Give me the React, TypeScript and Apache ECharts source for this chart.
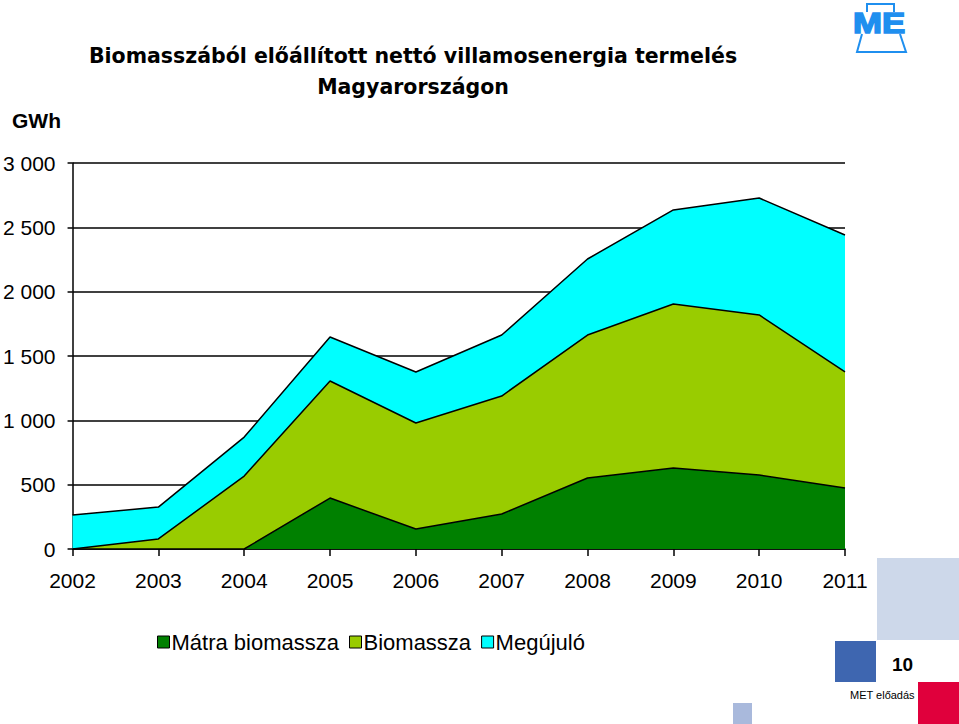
import React, { useEffect, useRef } from "react";
import * as echarts from "echarts";

const years = ["2002", "2003", "2004", "2005", "2006", "2007", "2008", "2009", "2010", "2011"];
const matra = [0, 0, 0, 396, 155, 272, 552, 630, 575, 474];
const biomassza = [0, 78, 567, 910, 824, 917, 1111, 1274, 1244, 902];
const megujulo = [264, 248, 303, 342, 397, 474, 591, 731, 909, 1064];
const seriesNames = ["Mátra biomassza", "Biomassza", "Megújuló"];
const seriesColors = ["#008000", "#99cc00", "#00ffff"];
const titleLines = ["Biomasszából előállított nettó villamosenergia termelés", "Magyarországon"];

export default function App() {
  const ref = useRef<HTMLDivElement>(null);
  useEffect(() => {
    const chart = echarts.init(ref.current!, null, { renderer: "svg" });
    const font = "Liberation Sans, Arial, sans-serif";
    const titleFont = "DejaVu Sans, sans-serif";
    const values = [matra, biomassza, megujulo];
    chart.setOption({
      animation: false,
      backgroundColor: "#ffffff",
      textStyle: { fontFamily: font },
      grid: { left: 72, right: 114, top: 163, bottom: 175, containLabel: false },
      xAxis: {
        type: "category",
        data: years,
        boundaryGap: false,
        axisLine: { lineStyle: { color: "#000", width: 1.5 } },
        axisTick: { show: true, length: 7, lineStyle: { color: "#000", width: 1.5 }, alignWithLabel: true },
        axisLabel: { color: "#000", fontSize: 21, margin: 21, fontFamily: font },
      },
      yAxis: {
        type: "value",
        min: 0,
        max: 3000,
        interval: 500,
        axisLine: { show: true, lineStyle: { color: "#000", width: 1.5 } },
        axisTick: { show: true, length: 5, lineStyle: { color: "#000", width: 1.5 } },
        splitLine: { show: true, lineStyle: { color: "#000", width: 1.5 } },
        axisLabel: {
          color: "#000",
          fontSize: 21,
          margin: 17,
          fontFamily: font,
          formatter: (v: number) => (v >= 1000 ? Math.floor(v / 1000) + " " + String(v % 1000).padStart(3, "0") : String(v)),
        },
      },
      legend: {
        left: 152,
        top: 626,
        itemWidth: 12,
        itemHeight: 12,
        itemGap: 10,
        icon: "rect",
        textStyle: { fontSize: 22, color: "#000", fontFamily: font, padding: [0, 0, 0, -3] },
        itemStyle: { borderColor: "#000", borderWidth: 1 },
        data: seriesNames,
      },
      series: seriesNames.map((name, i) => ({
        name,
        type: "line",
        stack: "total",
        data: values[i],
        symbol: "none",
        lineStyle: { color: "#000", width: 1.5 },
        itemStyle: { color: seriesColors[i] },
        areaStyle: { color: seriesColors[i], opacity: 1 },
        z: 2,
      })),
      graphic: [
        {
          type: "text",
          x: 413,
          y: 45,
          style: { text: titleLines[0], font: "bold 20.5px " + titleFont, fill: "#000", align: "center" },
        },
        {
          type: "text",
          x: 413,
          y: 76,
          style: { text: titleLines[1], font: "bold 20.5px " + titleFont, fill: "#000", align: "center" },
        },
        {
          type: "text",
          left: 12,
          top: 110,
          style: { text: "GWh", font: "bold 21px " + font, fill: "#000" },
        },
        // logo
        {
          type: "polyline",
          shape: { points: [[867, 12], [867, 4], [894, 4], [894, 12]] },
          style: { stroke: "#1f8fef", lineWidth: 2, fill: "none" },
        },
        {
          type: "polyline",
          shape: { points: [[862, 34], [857, 52], [906, 52], [900, 34]] },
          style: { stroke: "#1f8fef", lineWidth: 2, fill: "none" },
        },
        {
          type: "text",
          x: 853,
          y: 9,
          scaleX: 1.2,
          style: { text: "ME", font: "bold 29px " + font, fill: "#1f8fef", stroke: "#1f8fef", lineWidth: 1.5 },
        },
        // decorative blocks
        { type: "rect", shape: { x: 877, y: 558, width: 82, height: 82 }, style: { fill: "#cdd8ea" } },
        { type: "rect", shape: { x: 835, y: 641, width: 41, height: 41 }, style: { fill: "#3e66b0" } },
        { type: "rect", shape: { x: 918, y: 682, width: 41, height: 42 }, style: { fill: "#e0003c" } },
        { type: "rect", shape: { x: 733, y: 703, width: 19, height: 21 }, style: { fill: "#a9b9dc" } },
        {
          type: "text",
          left: 892,
          top: 655,
          style: { text: "10", font: "bold 19px " + font, fill: "#000" },
        },
        {
          type: "text",
          left: 850,
          top: 689,
          style: { text: "MET előadás", font: "11px " + font, fill: "#000" },
        },
      ],
    });
    return () => chart.dispose();
  }, []);
  return <div ref={ref} style={{ width: 959, height: 724, position: "absolute", left: 0, top: 0 }} />;
}
